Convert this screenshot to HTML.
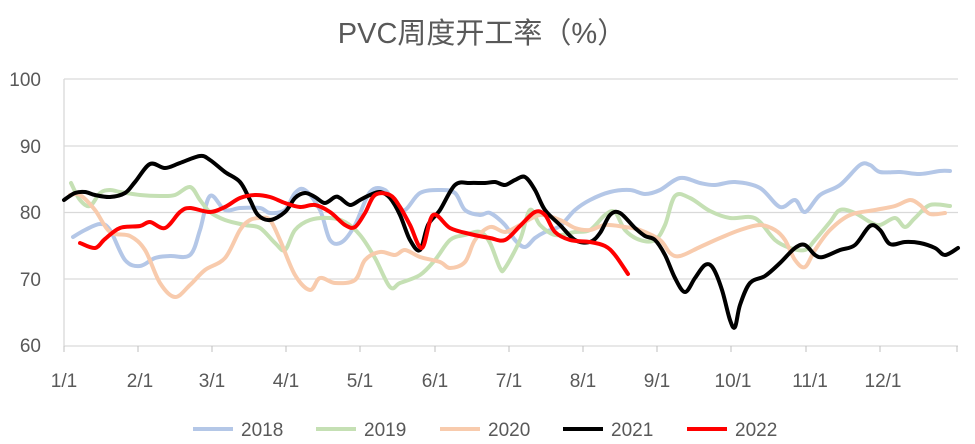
<!DOCTYPE html>
<html><head><meta charset="utf-8"><style>
html,body{margin:0;padding:0;background:#fff;}
svg{display:block;font-family:"Liberation Sans","Noto Sans CJK SC",sans-serif;}
</style></head><body>
<svg id="c" width="975" height="444" viewBox="0 0 975 444" xmlns="http://www.w3.org/2000/svg">
<text x="482" y="43" text-anchor="middle" font-size="29" fill="#595959">PVC周度开工率（%）</text>
<g stroke="#d9d9d9" stroke-width="1.3">
<line x1="64" y1="79" x2="958" y2="79"/>
<line x1="64" y1="146" x2="958" y2="146"/>
<line x1="64" y1="212.5" x2="958" y2="212.5"/>
<line x1="64" y1="279" x2="958" y2="279"/>
<line x1="64" y1="346" x2="958" y2="346"/>
<line x1="64" y1="79" x2="64" y2="346"/>
</g>
<g stroke="#bfbfbf" stroke-width="1">
<line x1="64" y1="346" x2="64" y2="352"/><line x1="138" y1="346" x2="138" y2="352"/><line x1="212" y1="346" x2="212" y2="352"/><line x1="286" y1="346" x2="286" y2="352"/><line x1="360" y1="346" x2="360" y2="352"/><line x1="435" y1="346" x2="435" y2="352"/><line x1="509" y1="346" x2="509" y2="352"/><line x1="583" y1="346" x2="583" y2="352"/><line x1="657" y1="346" x2="657" y2="352"/><line x1="731" y1="346" x2="731" y2="352"/><line x1="806" y1="346" x2="806" y2="352"/><line x1="880" y1="346" x2="880" y2="352"/><line x1="957" y1="346" x2="957" y2="352"/>
</g>
<g font-size="19" fill="#595959" text-anchor="end">
<text x="41" y="86">100</text><text x="41" y="153">90</text><text x="41" y="219">80</text><text x="41" y="286">70</text><text x="41" y="352">60</text>
</g>
<g font-size="19" fill="#595959" text-anchor="middle">
<text x="64" y="387">1/1</text><text x="140" y="387">2/1</text><text x="212" y="387">3/1</text><text x="286" y="387">4/1</text><text x="360" y="387">5/1</text><text x="435" y="387">6/1</text><text x="509" y="387">7/1</text><text x="583" y="387">8/1</text><text x="657" y="387">9/1</text><text x="733" y="387">10/1</text><text x="810" y="387">11/1</text><text x="883" y="387">12/1</text>
</g>
<g id="series" fill="none" stroke-linejoin="round" stroke-linecap="round">
<polyline stroke="#b4c7e7" stroke-width="4" points="73,237 85,230 100,224 110,230 125,260 140,266 155,258 170,256 190,255 200,230 210,196 225,210 240,208 260,208 270,213 285,210 295,193 305,190 320,210 330,240 342,242 355,225 370,192 385,190 395,205 405,210 420,193 440,190 455,193 465,210 480,215 490,213 505,225 515,240 525,247 535,238 545,232 560,226 575,210 590,200 610,192 630,190 645,194 660,190 680,178 700,183 715,185 735,182 760,188 780,207 795,200 805,212 820,195 840,185 860,165 870,165 880,172 900,172 920,174 940,171 950,171"/>
<polyline stroke="#c5e0b4" stroke-width="4" points="71,183 80,200 90,206 100,193 110,190 120,192 140,195 160,196 175,195 190,187 200,200 210,212 225,220 245,225 260,228 275,243 285,250 295,230 310,220 330,218 345,222 360,235 375,258 390,287 400,283 420,275 435,260 450,240 465,235 480,232 490,243 500,268 505,268 520,240 530,210 540,225 555,235 575,232 590,230 605,215 615,212 625,230 640,240 655,240 665,225 675,196 690,198 710,211 730,218 750,217 760,222 775,240 790,248 805,250 815,240 830,222 840,210 855,213 870,222 880,225 895,218 905,227 915,218 930,205 950,206"/>
<polyline stroke="#f8cbad" stroke-width="4" points="70,195 80,195 95,210 110,232 130,236 145,250 160,283 175,297 190,285 205,270 225,258 240,230 250,220 260,218 270,220 280,240 295,275 310,290 320,278 335,283 355,280 365,260 380,252 395,255 405,250 420,257 440,262 450,268 465,262 475,240 490,227 505,232 520,225 540,215 560,220 575,228 590,230 605,225 625,227 640,230 660,240 670,253 680,256 700,247 720,238 740,230 760,225 775,230 785,240 795,260 805,267 815,250 830,230 850,215 875,210 895,206 910,200 920,205 930,214 945,213"/>
<polyline stroke="#000" stroke-width="4" points="64,200 75,193 85,192 95,195 110,197 125,193 135,182 150,164 165,168 180,163 200,156 210,160 225,172 240,182 250,200 258,215 270,220 285,212 295,198 305,193 315,197 325,203 335,197 340,198 350,205 360,200 370,195 380,192 390,198 400,215 410,240 420,250 428,225 440,210 455,185 470,183 485,183 495,182 505,185 515,180 525,177 535,190 545,210 560,225 575,240 590,242 600,233 610,215 620,213 635,228 645,236 655,240 665,255 675,278 685,292 695,278 705,265 713,268 722,290 730,320 735,327 740,305 750,283 765,276 780,263 795,248 805,245 815,255 823,257 840,250 855,245 870,226 880,230 890,244 905,242 920,243 935,248 945,255 958,248"/>
<polyline stroke="#ff0000" stroke-width="4" points="80,243 95,248 105,239 120,228 140,226 150,222 165,228 180,212 190,208 210,212 225,207 240,198 255,195 270,197 285,203 300,207 315,205 330,212 345,225 355,227 365,213 375,195 390,195 400,207 410,225 422,248 433,215 450,228 470,234 490,238 505,240 520,226 535,212 545,215 555,232 570,240 590,242 605,246 615,255 628,274"/>
</g>
<g font-size="19" fill="#595959">
<line x1="193" y1="429" x2="233" y2="429" stroke="#b4c7e7" stroke-width="4"/><text x="241" y="436">2018</text>
<line x1="316" y1="429" x2="356" y2="429" stroke="#c5e0b4" stroke-width="4"/><text x="364" y="436">2019</text>
<line x1="440" y1="429" x2="480" y2="429" stroke="#f8cbad" stroke-width="4"/><text x="488" y="436">2020</text>
<line x1="563" y1="429" x2="603" y2="429" stroke="#000" stroke-width="4"/><text x="611" y="436">2021</text>
<line x1="687" y1="429" x2="727" y2="429" stroke="#ff0000" stroke-width="4"/><text x="735" y="436">2022</text>
</g>
</svg>
<script>
(function(){
var ns="http://www.w3.org/2000/svg";
var pls=document.querySelectorAll("#series polyline");
for(var k=0;k<pls.length;k++){
var pl=pls[k];
var pts=pl.getAttribute("points").trim().split(/\s+/).map(function(s){var a=s.split(",");return [+a[0],+a[1]];});
var d="M"+pts[0][0]+","+pts[0][1];
for(var i=0;i<pts.length-1;i++){
var p0=pts[i-1]||pts[i],p1=pts[i],p2=pts[i+1],p3=pts[i+2]||p2;
var c1x=p1[0]+(p2[0]-p0[0])/6,c1y=p1[1]+(p2[1]-p0[1])/6;
var c2x=p2[0]-(p3[0]-p1[0])/6,c2y=p2[1]-(p3[1]-p1[1])/6;
d+=" C"+c1x.toFixed(1)+","+c1y.toFixed(1)+" "+c2x.toFixed(1)+","+c2y.toFixed(1)+" "+p2[0]+","+p2[1];
}
var p=document.createElementNS(ns,"path");
p.setAttribute("d",d);
p.setAttribute("stroke",pl.getAttribute("stroke"));
p.setAttribute("stroke-width","4");
pl.parentNode.replaceChild(p,pl);
}
})();
</script>
</body></html>
